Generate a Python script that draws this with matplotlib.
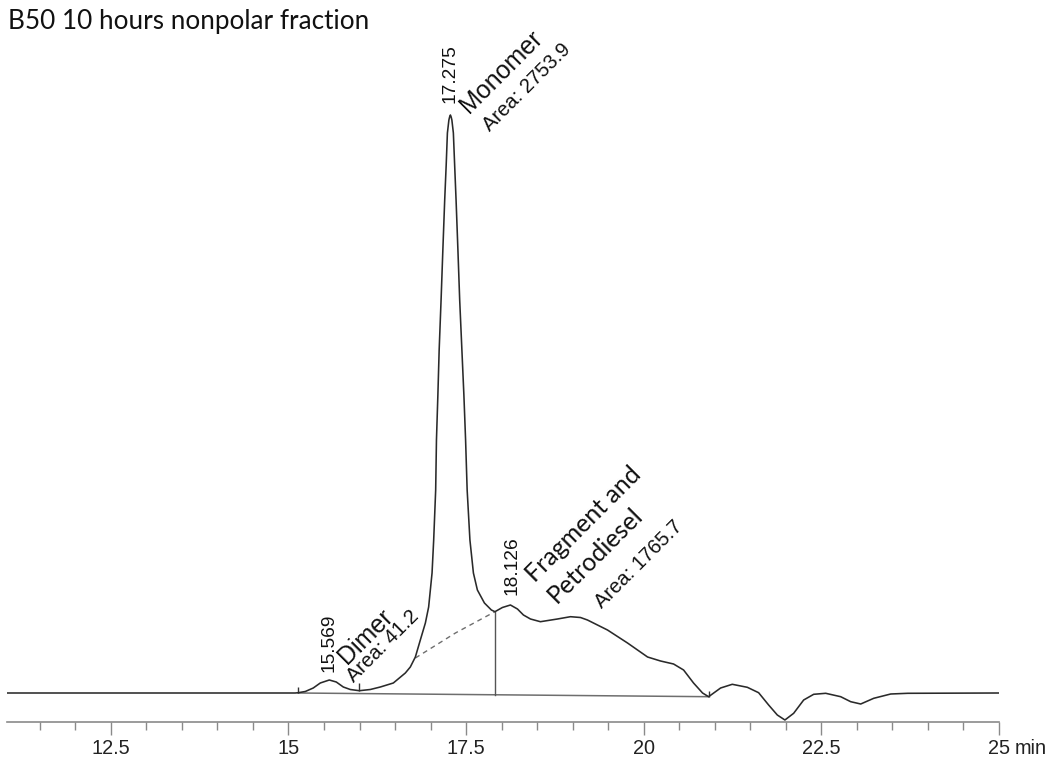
import matplotlib
matplotlib.use('Agg')
import matplotlib.pyplot as plt
from matplotlib.ticker import FixedLocator, MultipleLocator, NullFormatter

plt.rcParams['font.family'] = ['Liberation Sans', 'DejaVu Sans']

# ---------------- data (retention time in min, detector response in arb. units) ----
time = [11.039, 15.096, 15.138, 15.237, 15.349, 15.448, 15.575, 15.673, 15.772,
        15.870, 15.997, 16.152, 16.293, 16.476, 16.645, 16.715, 16.786, 16.856,
        16.927, 16.973, 17.021, 17.044, 17.072, 17.083, 17.103, 17.121, 17.148,
        17.173, 17.199, 17.220, 17.237, 17.258, 17.268, 17.279, 17.290, 17.300,
        17.321, 17.339, 17.359, 17.385, 17.410, 17.441, 17.469, 17.493, 17.515,
        17.554, 17.603, 17.659, 17.758, 17.856, 17.906, 18.011, 18.124, 18.223,
        18.307, 18.406, 18.546, 18.786, 18.969, 19.110, 19.208, 19.490, 19.772,
        20.054, 20.237, 20.420, 20.561, 20.701, 20.828, 20.913, 21.082, 21.246,
        21.458, 21.617, 21.758, 21.880, 21.987, 22.110, 22.251, 22.392, 22.561,
        22.772, 22.913, 23.054, 23.237, 23.476, 23.715, 25.0]
signal = [0.0, 0.0, 0.03, 0.15, 0.5, 1.0, 1.3, 1.1, 0.6,
          0.35, 0.23, 0.35, 0.6, 1.0, 2.0, 2.6, 3.6, 5.3,
          7.0, 8.6, 12.0, 15.3, 20.3, 25.3, 29.8, 34.3, 39.3,
          44.3, 49.3, 52.8, 56.0, 57.3, 57.6, 57.8, 57.6, 57.3,
          56.0, 52.8, 49.3, 44.3, 39.3, 34.3, 29.8, 25.3, 20.3,
          15.3, 12.0, 10.3, 9.0, 8.3, 8.13, 8.55, 8.8, 8.4,
          7.8, 7.4, 7.13, 7.4, 7.63, 7.55, 7.3, 6.3, 5.0,
          3.6, 3.2, 2.9, 2.3, 1.0, 0.0, -0.37, 0.5, 0.87,
          0.57, 0.03, -1.2, -2.2, -2.7, -2.03, -0.7, -0.13, -0.03,
          -0.37, -0.87, -1.1, -0.53, -0.1, -0.03, 0.0]

major_ticks = [12.5, 15, 17.5, 20, 22.5, 25]
major_labels = ['12.5', '15', '17.5', '20', '22.5', '25']
x_unit = 'min'
title = 'B50 10 hours nonpolar fraction'

# peak apex retention-time labels
peak_times = [15.569, 17.275, 18.15]
peak_tops = [2.1, 59.0, 9.8]
peak_labels = ['15.569', '17.275', '18.126']

# integration events
baseline_t = [15.138, 20.913]
baseline_v = [0.0, -0.37]
drop_t = [17.906, 17.906]
drop_v = [-0.24, 8.13]
skim_t = [16.786, 17.35, 17.906]
skim_v = [3.5, 6.0, 8.13]
event_t = [15.138, 15.997, 20.913]
event_lo = [0.0, 0.23, -0.37]
event_hi = [0.65, 1.0, 0.23]

# peak names and areas (rotated annotations)
name_texts = ['Dimer', 'Monomer']
name_t = [15.824, 17.537]
name_v = [2.8, 57.9]
area_texts = ['Area: 41.2', 'Area: 2753.9', 'Area: 1765.7']
area_t = [15.927, 17.842, 19.415]
area_v = [1.03, 56.1, 8.37]
frag_texts = ['Fragment and', 'Petrodiesel']
frag_t = [18.476, 18.772]
frag_v = [10.97, 8.9]

# ---------------- figure ----------------
W, H = 1051, 757
fig = plt.figure(figsize=(W / 100, H / 100), dpi=100)
ax = fig.add_axes([7 / W, 35 / H, 992 / W, 682 / H])
ax.set_xlim(11.039, 25.0)
ax.set_ylim(-2.9, 65.3)

for s in ['top', 'left', 'right']:
    ax.spines[s].set_visible(False)
ax.spines['bottom'].set_color('#8a8a8a')
ax.spines['bottom'].set_linewidth(1.2)
ax.yaxis.set_visible(False)

ax.xaxis.set_major_locator(FixedLocator(major_ticks))
ax.set_xticklabels(major_labels)
ax.xaxis.set_minor_locator(MultipleLocator(0.5))
ax.xaxis.set_minor_formatter(NullFormatter())
ax.tick_params(axis='x', which='major', length=9, width=1.0, color='#8a8a8a',
               pad=3.5, labelsize=14.3, labelcolor='#222222')
ax.tick_params(axis='x', which='minor', length=6, width=1.0, color='#8a8a8a')
ax.annotate(x_unit, xy=(25, 0), xycoords=('data', 'axes fraction'),
            xytext=(11.5, -12.5), textcoords='offset points', ha='left', va='top',
            fontsize=14.3, color='#222222')

# integration lines
ax.plot(baseline_t, baseline_v, color='#6e6e6e', lw=1.1, zorder=2)
ax.plot(drop_t, drop_v, color='#555555', lw=1.0, zorder=2)
ax.plot(skim_t, skim_v, color='#6e6e6e', lw=1.0, ls=(0, (3.5, 3)), zorder=2)
ax.vlines(event_t, event_lo, event_hi, color='#333333', lw=1.0, zorder=3)

# chromatogram
ax.plot(time, signal, color='#2a2a2a', lw=1.15, zorder=4, solid_joinstyle='round')

# labels
for t, v, s in zip(peak_times, peak_tops, peak_labels):
    ax.text(t, v, s, rotation=90, ha='center', va='bottom', fontsize=13.8,
            color='#111111')
for t, v, s in zip(name_t, name_v, name_texts):
    ax.text(t, v, s, rotation=45, rotation_mode='anchor', ha='left', va='baseline',
            fontsize=18, color='#111111')
for t, v, s in zip(area_t, area_v, area_texts):
    ax.text(t, v, s, rotation=45, rotation_mode='anchor', ha='left', va='baseline',
            fontsize=14.5, color='#111111')
for t, v, s in zip(frag_t, frag_v, frag_texts):
    ax.text(t, v, s, rotation=45, rotation_mode='anchor', ha='left', va='baseline',
            fontsize=18, family=['Lato', 'DejaVu Sans'], color='#111111')

fig.text(8 / W, 1 - 29 / H, title, ha='left', va='baseline', fontsize=18.8,
         family=['Lato', 'DejaVu Sans'], color='#111111')

fig.savefig('out.png', dpi=100)
